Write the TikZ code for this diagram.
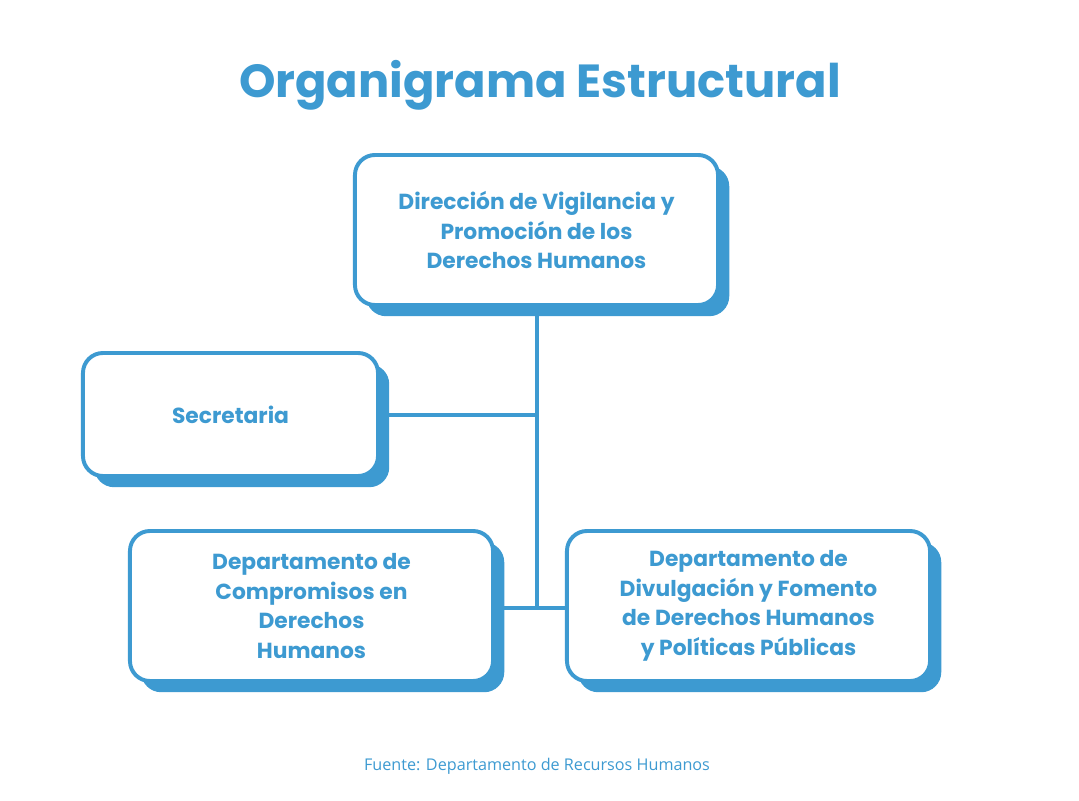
\documentclass[tikz,border=0pt]{standalone}
\usepackage{fontspec}
\setmainfont{Poppins}
\newfontfamily\notefont{Open Sans}
\usetikzlibrary{positioning,shadows}
\definecolor{orgblue}{HTML}{3D9AD1}
\tikzset{
  unit/.style={draw=orgblue, line width=2.8pt, rounded corners=0.5cm, fill=white,
    text=orgblue, font=\fontsize{15.5}{21}\selectfont\bfseries, align=center,
    minimum width=9.075cm, minimum height=3.75cm, inner sep=2pt,
    drop shadow={shadow xshift=0.28cm, shadow yshift=-0.28cm, opacity=1, fill=orgblue}},
  link/.style={draw=orgblue, line width=2.8pt}
}
\begin{document}
\begin{tikzpicture}[x=0.025cm,y=-0.025cm]
  \useasboundingbox (0,0) rectangle (1079,801);
  \node[text=orgblue, font=\fontsize{33}{40}\selectfont\bfseries] (title) at (540,85) {Organigrama Estructural};
  % boxes
  \node[unit] (dir) at (536.5,230) {Dirección de Vigilancia y\\Promoción de los\\Derechos Humanos};
  \node[unit, minimum width=7.375cm, minimum height=3.075cm] (sec) at (230.5,414.5) {Secretaria};
  \node[unit] (comp) at (311.5,606) {Departamento de\\Compromisos en\\Derechos\\Humanos};
  \node[unit] (divu) at (748.5,606) {Departamento de\\Divulgación y Fomento\\de Derechos Humanos\\y Políticas Públicas};
  % connectors
  \coordinate (jsec) at (537,415);
  \coordinate (jdep) at (537,608);
  \draw[link] (dir.south -| jsec) -- (jdep);
  \draw[link] (sec.east |- jsec) -- (jsec);
  \draw[link] (comp.east |- jdep) -- (divu.west |- jdep);
  \node[text=orgblue, font=\notefont\fontsize{11.5}{14}\selectfont] (note) at (537,766) {Fuente: Departamento de Recursos Humanos};
\end{tikzpicture}
\end{document}
